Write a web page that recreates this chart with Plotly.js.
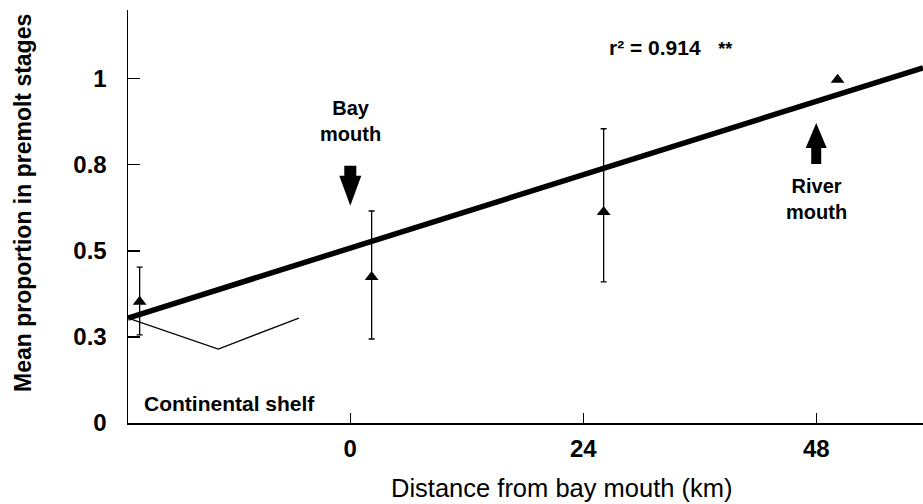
<!DOCTYPE html>
<html>
<head>
<meta charset="utf-8">
<script src="https://cdn.plot.ly/plotly-3.0.1.min.js"></script>
<style>html,body{margin:0;padding:0;background:#fff;}#chart{width:923px;height:504px;}</style>
</head>
<body>
<div id="chart"></div>
<script>
// ---- data ----
const distanceKm = [-21.7, 2.2, 26.1, 50.2];
const meanProportion = [0.352, 0.424, 0.613, 0.997];
const upperBound = [0.453, 0.616, 0.855, 0.997];
const lowerBound = [0.256, 0.244, 0.410, 0.997];
const fitX = [-22.9, 59];
const fitY = [0.305, 1.032];
const shelfX = [-22.9, -13.6, -5.3];
const shelfY = [0.305, 0.215, 0.305];
const xTickVals = [0, 24, 48];
const xTickText = ["0", "24", "48"];
const yTickVals = [0, 0.25, 0.5, 0.75, 1];
const yTickText = ["0", "0.3", "0.5", "0.8", "1"];
const bayMouthX = 0, bayMouthTipY = 0.631;
const riverMouthX = 48, riverMouthTipY = 0.872;

const xRange = [-22.9, 59], yRange = [0, 1.2];
const M = {l: 128, r: 0, t: 10, b: 81};
const W = 923, H = 504;
const PW = W - M.l - M.r, PH = H - M.t - M.b;
const pxX = (xRange[1] - xRange[0]) / PW;
const pxY = (yRange[1] - yRange[0]) / PH;
const paperX = px => (px - M.l) / PW;
const paperY = py => 1 - (py - M.t) / PH;

// block arrow path, tip at (x0,y0); dir = -1 pointing down, +1 pointing up
function blockArrow(x0, y0, dir, headW, headH, shaftW, shaftH) {
  const hw = headW / 2 * pxX, sw = shaftW / 2 * pxX;
  const hh = headH * pxY * -dir, sh = (headH + shaftH) * pxY * -dir;
  const pts = [
    [x0, y0], [x0 - hw, y0 + hh], [x0 - sw, y0 + hh], [x0 - sw, y0 + sh],
    [x0 + sw, y0 + sh], [x0 + sw, y0 + hh], [x0 + hw, y0 + hh]
  ];
  return 'M' + pts.map(p => p[0] + ',' + p[1]).join(' L') + ' Z';
}

const font = "Arial, 'Liberation Sans', sans-serif";
const b = s => '<b>' + s + '</b>';

const traces = [
  {
    x: fitX, y: fitY, mode: 'lines', type: 'scatter',
    line: {color: '#000', width: 5.5}, hoverinfo: 'skip'
  },
  {
    x: shelfX, y: shelfY, mode: 'lines', type: 'scatter',
    line: {color: '#000', width: 1.3}, hoverinfo: 'skip'
  },
  {
    x: distanceKm, y: meanProportion, mode: 'markers', type: 'scatter',
    marker: {symbol: 'triangle-up', size: 12, color: '#000'},
    error_y: {
      type: 'data', symmetric: false,
      array: upperBound.map((u, i) => u - meanProportion[i]),
      arrayminus: lowerBound.map((l, i) => meanProportion[i] - l),
      color: '#000', thickness: 1.3, width: 3
    },
    cliponaxis: false
  }
];

const layout = {
  width: W, height: H,
  margin: M,
  paper_bgcolor: '#fff', plot_bgcolor: '#fff',
  showlegend: false,
  font: {family: font, color: '#000'},
  xaxis: {
    range: xRange, tickvals: xTickVals, ticktext: xTickText.map(b),
    showline: true, linecolor: '#000', linewidth: 1.5,
    ticks: 'inside', ticklen: 10, tickwidth: 1.2, tickcolor: '#000',
    showgrid: false, zeroline: false, ticklabelstandoff: 4,
    tickfont: {size: 24, family: font, color: '#000'}
  },
  yaxis: {
    range: yRange, tickvals: yTickVals, ticktext: yTickText.map(b),
    showline: true, linecolor: '#000', linewidth: 1.5,
    ticks: 'inside', ticklen: 12, tickwidth: 1.2, tickcolor: '#000',
    showgrid: false, zeroline: false, ticklabelstandoff: 15,
    tickfont: {size: 24, family: font, color: '#000'}
  },
  shapes: [
    {type: 'path', xref: 'x', yref: 'y', path: blockArrow(bayMouthX, bayMouthTipY, -1, 22, 30, 12, 10),
     fillcolor: '#000', line: {width: 0}},
    {type: 'path', xref: 'x', yref: 'y', path: blockArrow(riverMouthX, riverMouthTipY, 1, 21, 25, 10, 16),
     fillcolor: '#000', line: {width: 0}}
  ],
  annotations: [
    {xref: 'paper', yref: 'paper', x: paperX(562), y: paperY(488), xanchor: 'center', yanchor: 'middle',
     showarrow: false, text: 'Distance from bay mouth (km)', font: {size: 25.5, family: font}},
    {xref: 'paper', yref: 'paper', x: paperX(23), y: paperY(203), xanchor: 'center', yanchor: 'middle',
     showarrow: false, textangle: -90, text: b('Mean proportion in premolt stages'), font: {size: 23, family: font}},
    {xref: 'paper', yref: 'paper', x: paperX(607), y: paperY(48), xanchor: 'left', yanchor: 'middle', showarrow: false,
     text: b('r² = 0.914\u00a0\u00a0\u00a0<span style="font-size:18px">**</span>'), font: {size: 21, family: font}},
    {xref: 'x', yref: 'paper', x: bayMouthX, y: paperY(121), xanchor: 'center', yanchor: 'middle',
     showarrow: false, text: b('Bay<br>mouth'), font: {size: 20, family: font}},
    {xref: 'x', yref: 'paper', x: riverMouthX, y: paperY(199), xanchor: 'center', yanchor: 'middle',
     showarrow: false, text: b('River<br>mouth'), font: {size: 20, family: font}},
    {xref: 'paper', yref: 'paper', x: paperX(229), y: paperY(403), xanchor: 'center', yanchor: 'middle',
     showarrow: false, text: b('Continental shelf'), font: {size: 21, family: font}}
  ]
};

Plotly.newPlot('chart', traces, layout, {displayModeBar: false, staticPlot: true});
</script>
</body>
</html>
